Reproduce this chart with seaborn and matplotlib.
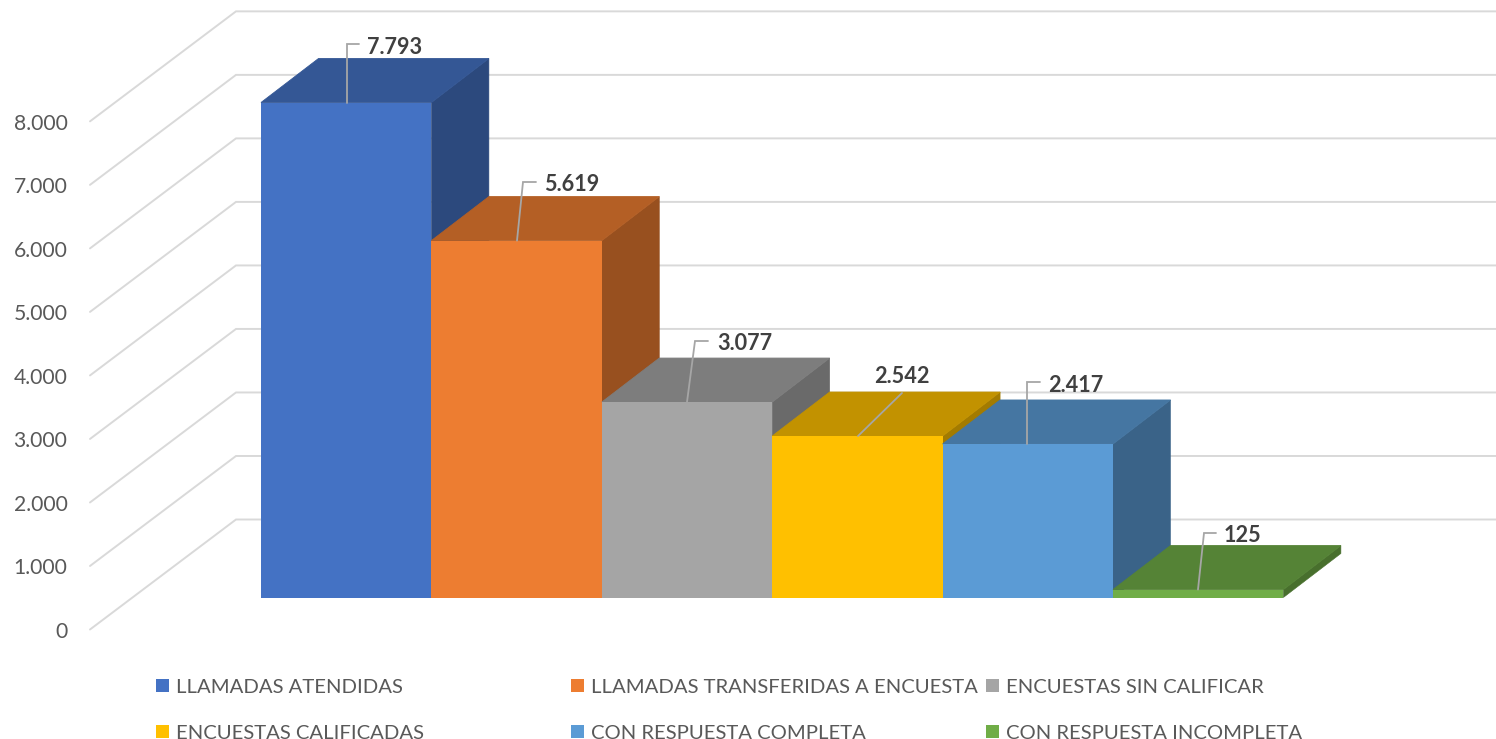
import matplotlib
matplotlib.use("Agg")
import matplotlib.pyplot as plt
import seaborn as sns
import pandas as pd
from matplotlib.colors import to_rgb
from matplotlib.patches import Polygon, Patch

# ---- data ----
categories = ["LLAMADAS ATENDIDAS", "LLAMADAS TRANSFERIDAS A ENCUESTA", "ENCUESTAS SIN CALIFICAR",
              "ENCUESTAS CALIFICADAS", "CON RESPUESTA COMPLETA", "CON RESPUESTA INCOMPLETA"]
values = [7793, 5619, 3077, 2542, 2417, 125]
colors = ["#4472C4", "#ED7D31", "#A5A5A5", "#FFC000", "#5B9BD5", "#70AD47"]
ytick_values = [0, 1000, 2000, 3000, 4000, 5000, 6000, 7000, 8000]
value_labels = ["7.793", "5.619", "3.077", "2.542", "2.417", "125"]

# ---- layout (pixels) ----
W, H = 1496, 739
PX_PER_UNIT = 495.0 / 7793
BASE_Y = 597.5
BAR_LEFT = 261.0
BAR_W = 170.4
DEPTH_X, DEPTH_Y = 57.5, 44.0
WALL_X0, WALL_Y0, WALL_X1, WALL_Y1 = 90, 629.5, 236, 519.5
leaders = [[(347, 44), (359, 44)], [(523, 182), (536, 182)], [(695, 341), (708, 341)],
           [(902, 393)], [(1027, 382), (1040, 382)], [(1204, 533), (1216, 533)]]
leader_start_x = [347, 517, 687, 858, 1027, 1198]
label_pos = [(367, 47.5), (544, 184.5), (717, 343.5), (874.5, 376.5), (1048, 385.5), (1224, 535.5)]

FONT = "Lato"
sns.set_theme(style="white")
plt.rcParams["font.family"] = [FONT, "DejaVu Sans"]

fig = plt.figure(figsize=(W / 100, H / 100), dpi=100, facecolor="white")
ax = fig.add_axes([0, 0, 1, 1])

df = pd.DataFrame({"cat": categories, "val": values})
sns.barplot(data=df, x="cat", y="val", hue="cat", palette=colors, width=1.0,
            dodge=False, legend=False, ax=ax, saturation=1, linewidth=0)

# category/value axes mapped so that the front plane lands on the chart area
ax.set_xlim((0 - BAR_LEFT) / BAR_W - 0.5, (W - BAR_LEFT) / BAR_W - 0.5)
ax.set_ylim((BASE_Y - H) / PX_PER_UNIT, BASE_Y / PX_PER_UNIT)
ax.axis("off")

def dx(px):
    return (px - BAR_LEFT) / BAR_W - 0.5
def dy(py):
    return (BASE_Y - py) / PX_PER_UNIT

depth_x = DEPTH_X / BAR_W
depth_y = DEPTH_Y / PX_PER_UNIT

# back wall and side wall gridlines
grid_c = "#D9D9D9"
for v in ytick_values:
    off = v * PX_PER_UNIT
    ax.plot([dx(WALL_X0), dx(WALL_X1), dx(W)],
            [dy(WALL_Y0 - off), dy(WALL_Y1 - off), dy(WALL_Y1 - off)],
            color=grid_c, lw=1.4, zorder=0.5, solid_joinstyle="miter")

def shade(c, f):
    return tuple(x * f for x in to_rgb(c))

# extruded side and top faces, painted left to right
fronts = list(ax.patches)
for i, (v, c, p) in enumerate(zip(values, colors, fronts)):
    l, r = i - 0.5, i + 0.5
    p.set_zorder(2 + i + 0.5)
    side = shade(c, 0.64)
    top = shade(c, 0.76)
    ax.add_patch(Polygon([(r, 0), (r + depth_x, depth_y), (r + depth_x, v + depth_y), (r, v)],
                         closed=True, fc=side, ec=side, lw=0.4, zorder=2 + i))
    ax.add_patch(Polygon([(l, v), (l + depth_x, v + depth_y), (r + depth_x, v + depth_y), (r, v)],
                         closed=True, fc=top, ec=top, lw=0.6, zorder=2 + i + 0.2))

# leader lines and value labels
for i, v in enumerate(values):
    xs = [leader_start_x[i]] + [q[0] for q in leaders[i]]
    ys = [BASE_Y - v * PX_PER_UNIT] + [q[1] for q in leaders[i]]
    ax.plot([dx(x) for x in xs], [dy(y) for y in ys], color="#A6A6A6", lw=1.3, zorder=20,
            solid_joinstyle="miter")
    ax.text(dx(label_pos[i][0]), dy(label_pos[i][1]), value_labels[i], fontsize=15.6,
            fontweight="bold", color="#404040", ha="left", va="center", zorder=21)

# value axis (tick labels of the slanted wall's front edge)
ax2 = fig.add_axes([73 / W, 1 - (WALL_Y0 + 0.5) / H, 10 / W, 8000 * PX_PER_UNIT / H])
ax2.patch.set_alpha(0)
ax2.set_ylim(0, 8000)
ax2.set_xticks([])
ax2.set_yticks(ytick_values)
ax2.set_yticklabels([f"{t:,}".replace(",", ".") for t in ytick_values], fontsize=15.2, color="#595959")
ax2.tick_params(axis="y", length=0, pad=4)
for s in ax2.spines.values():
    s.set_visible(False)

# legend, three columns anchored separately
col_x = [156, 571, 986]
row_groups = [[0, 3], [1, 4], [2, 5]]
for x0, grp in zip(col_x, row_groups):
    hs = [Patch(fc=colors[j], ec="none") for j in grp]
    leg = ax.legend(hs, [categories[j] for j in grp], loc="upper left",
                    bbox_to_anchor=(x0 / W, 1 - 679 / H), bbox_transform=fig.transFigure,
                    frameon=False, fontsize=14.6, labelcolor="#595959", handlelength=0.62,
                    handleheight=0.62, handletextpad=0.36, labelspacing=1.42,
                    borderpad=0, borderaxespad=0)
    ax.add_artist(leg)
    ax.legend_ = None

fig.savefig("out.png", dpi=100, facecolor="white")
